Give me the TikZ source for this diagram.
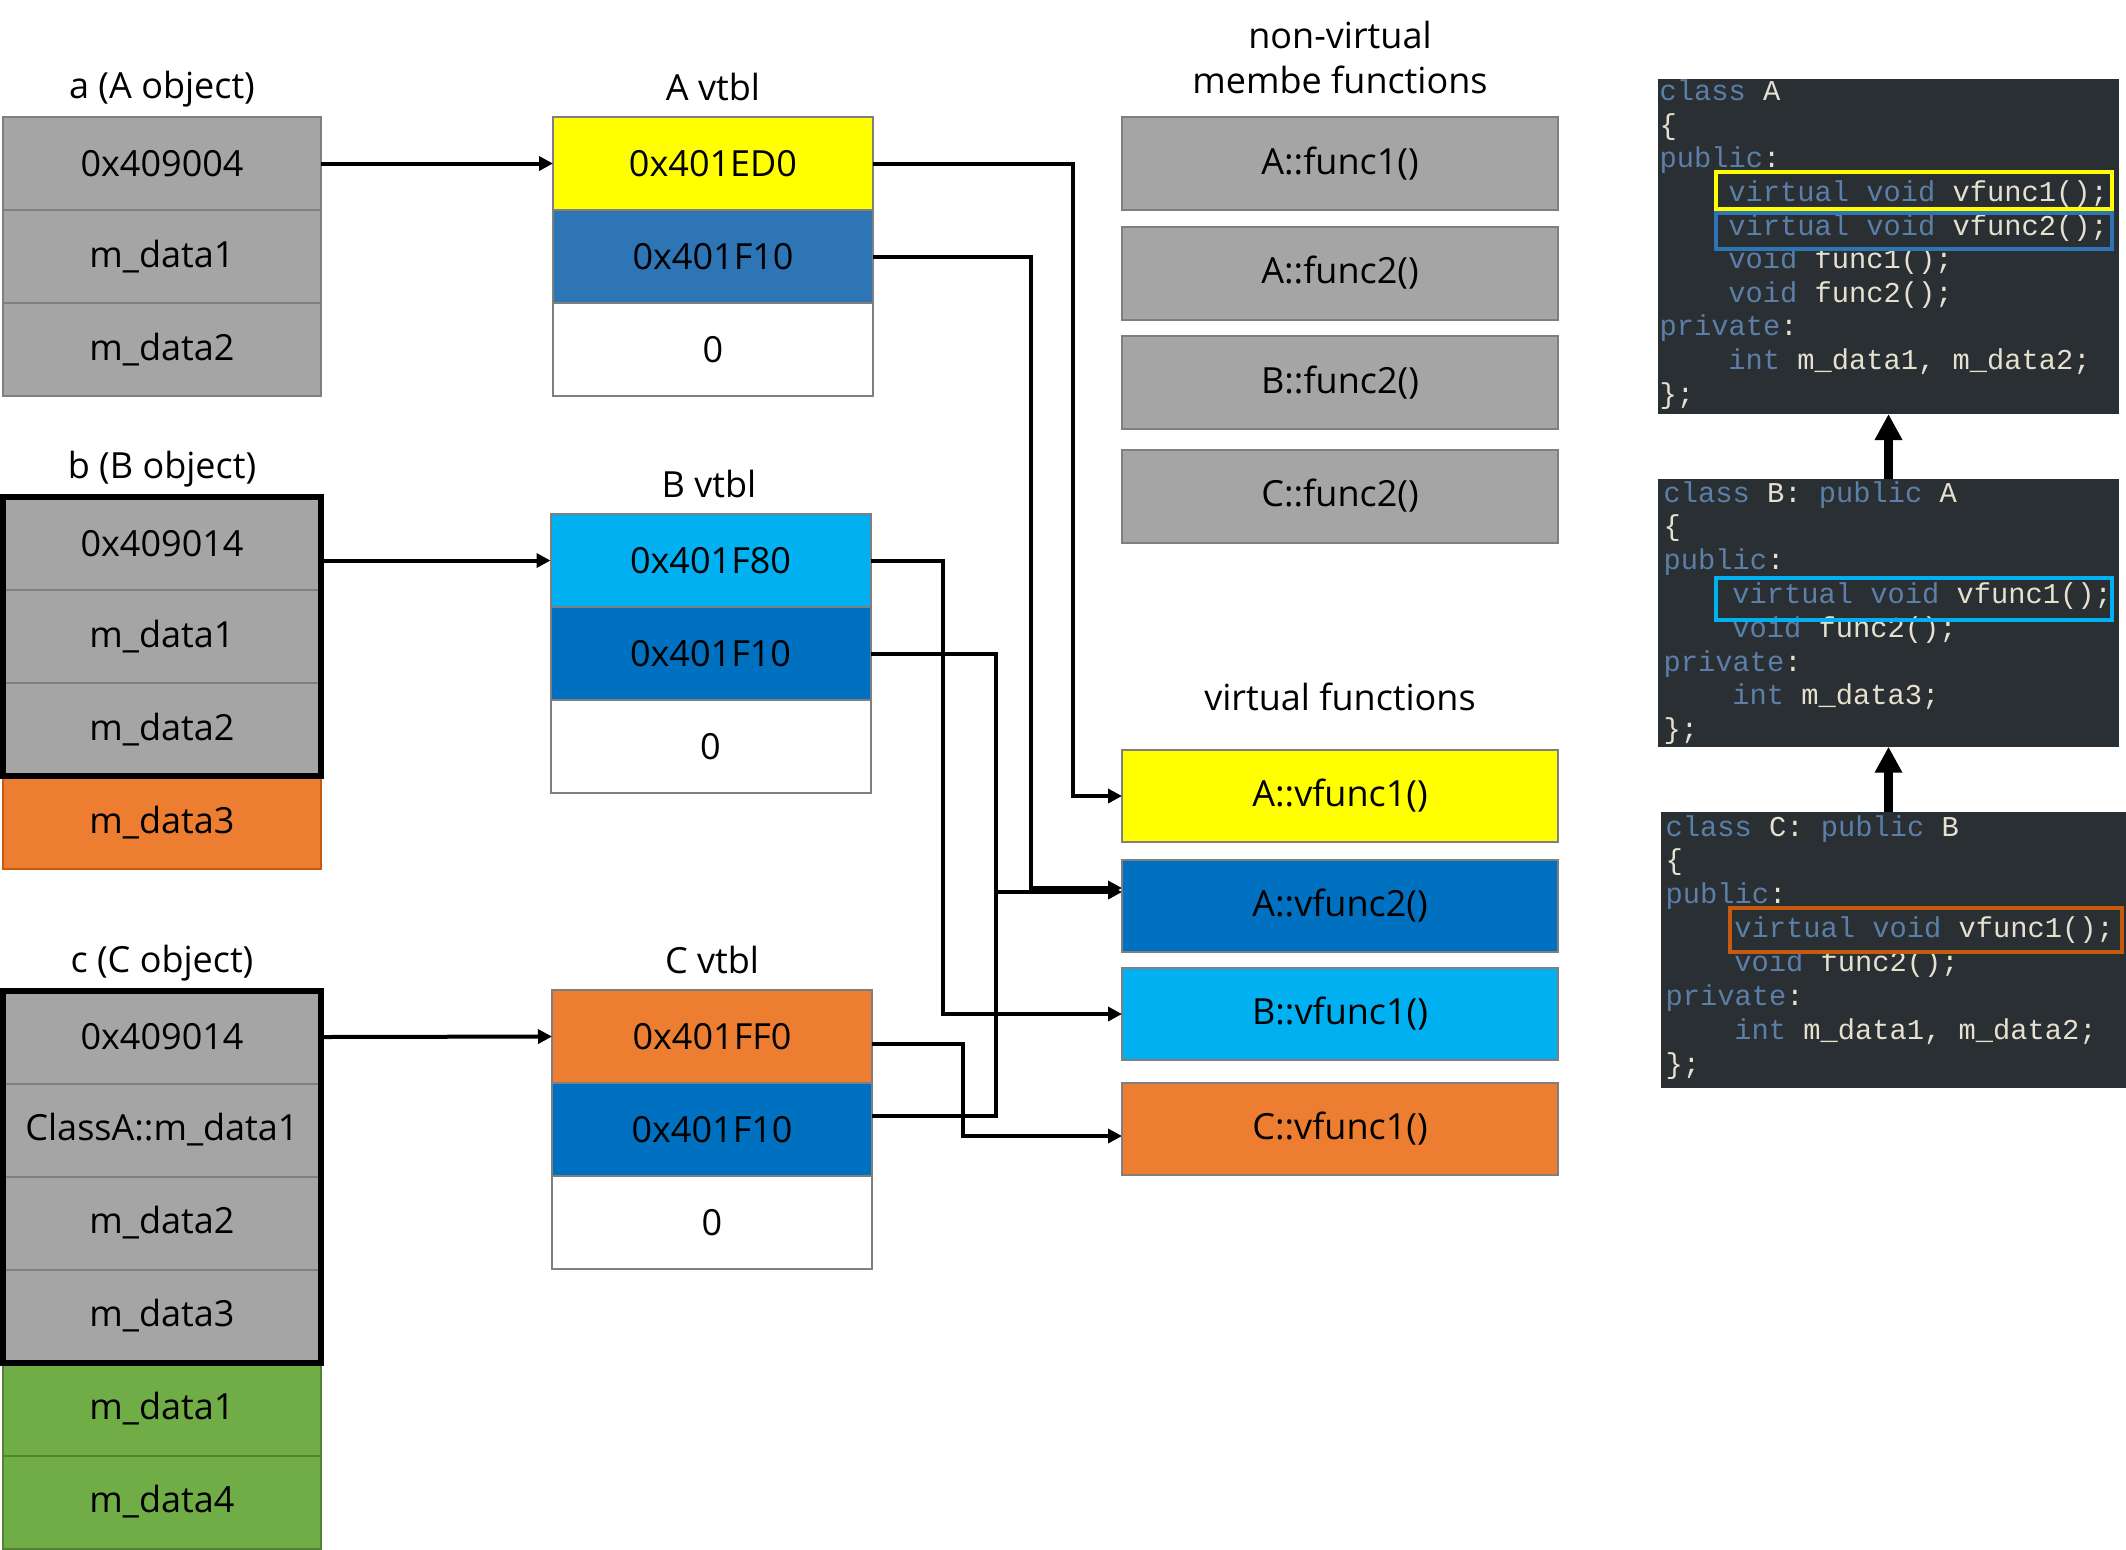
\documentclass[tikz,border=0pt]{standalone}
\usepackage{fontspec}
\setmainfont{Open Sans}
\newfontfamily\codefont{Liberation Mono}
\usetikzlibrary{arrows.meta,calc}
\definecolor{cellgray}{HTML}{A5A5A5}
\definecolor{cellborder}{HTML}{7F7F7F}
\definecolor{cyellow}{HTML}{FFFF00}
\definecolor{csteel}{HTML}{2E75B6}
\definecolor{cblue}{HTML}{0070C0}
\definecolor{clight}{HTML}{00B0F0}
\definecolor{corange}{HTML}{ED7D31}
\definecolor{corangeb}{HTML}{C55A11}
\definecolor{cgreen}{HTML}{70AD47}
\definecolor{cgreenb}{HTML}{548235}
\definecolor{codebg}{HTML}{2A2F33}
\definecolor{codekw}{HTML}{5B7FA6}
\definecolor{codetx}{HTML}{E6E1CF}
\newcommand{\kw}[1]{\textcolor{codekw}{#1}}
\newcommand{\boxfs}{\fontsize{14.4pt}{17pt}\selectfont}
\newcommand{\codefs}{\codefont\fontsize{11.5pt}{13pt}\selectfont}
\begin{document}
\begin{tikzpicture}[x=0.4pt,y=-0.4pt,
  cell/.style={draw=cellborder, line width=0.8pt, inner sep=0pt, outer sep=0pt,
    minimum width=127.2pt, minimum height=37.2pt, font=\boxfs, text=black},
  graycell/.style={cell, fill=cellgray},
  vt/.style={cell, minimum width=128pt},
  fn/.style={cell, fill=cellgray, minimum width=174.4pt},
  vfn/.style={cell, minimum width=174.4pt, minimum height=36.8pt},
  hdr/.style={anchor=base, inner sep=0pt, font=\boxfs},
  conn/.style={line width=1.6pt},
  arr/.style={conn, -{Triangle[length=5.6pt,width=5.6pt]}},
  codeline/.style={anchor=base west, inner sep=0pt, font=\codefs, text=codetx},
  hl/.style={line width=1.6pt},
  panel/.style={fill=codebg, draw=none, inner sep=0pt, outer sep=0pt},
  inh/.style={line width=3.3pt, -{Triangle[length=10.4pt,width=10.4pt]}}
]
\useasboundingbox (0,0) rectangle (2126,1549);

% ---------- headers ----------
\node[hdr] (ha) at (162,98) {a (A object)};
\node[hdr] (hb) at (162,478) {b (B object)};
\node[hdr] (hc) at (162,972) {c (C object)};
\node[hdr] (hav) at (713,100) {A vtbl};
\node[hdr] (hbv) at (709,497) {B vtbl};
\node[hdr] (hcv) at (712,973) {C vtbl};
\node[hdr] (hnv1) at (1340,48) {non-virtual};
\node[hdr] (hnv2) at (1340,93) {membe functions};
\node[hdr] (hvf) at (1340,710) {virtual functions};

% ---------- objects ----------
\node[graycell] (a1) at (162,163.5) {0x409004};
\node[graycell] (a2) at (162,256.5) {m\_data1};
\node[graycell] (a3) at (162,349.5) {m\_data2};

\node[graycell] (b1) at (162,543.5) {0x409014};
\node[graycell] (b2) at (162,636.5) {m\_data1};
\node[graycell] (b3) at (162,729.5) {m\_data2};
\node[cell, fill=corange, draw=corangeb] (b4) at (162,822.5) {m\_data3};
\draw[line width=2.4pt] (b1.north west) rectangle (b3.south east);

\node[graycell] (c1) at (162,1037) {0x409014};
\node[graycell] (c2) at (162,1130) {ClassA::m\_data1};
\node[graycell] (c3) at (162,1223) {m\_data2};
\node[graycell] (c4) at (162,1316) {m\_data3};
\node[cell, fill=cgreen, draw=cgreenb] (c5) at (162,1409) {m\_data1};
\node[cell, fill=cgreen, draw=cgreenb] (c6) at (162,1502) {m\_data4};
\draw[line width=2.4pt] (c1.north west) rectangle (c4.south east);

% ---------- vtables ----------
\node[vt, fill=cyellow] (av1) at (713,163.5) {0x401ED0};
\node[vt, fill=csteel] (av2) at (713,256.5) {0x401F10};
\node[vt, fill=white] (av3) at (713,349.5) {0};

\node[vt, fill=clight] (bv1) at (710.5,560.5) {0x401F80};
\node[vt, fill=cblue] (bv2) at (710.5,653.5) {0x401F10};
\node[vt, fill=white] (bv3) at (710.5,746.5) {0};

\node[vt, fill=corange] (cv1) at (712,1036.5) {0x401FF0};
\node[vt, fill=cblue] (cv2) at (712,1129.5) {0x401F10};
\node[vt, fill=white] (cv3) at (712,1222.5) {0};

% ---------- functions ----------
\node[fn] (nf1) at (1340,163.5) {A::func1()};
\node[fn] (nf2) at (1340,273) {A::func2()};
\node[fn] (nf3) at (1340,382.5) {B::func2()};
\node[fn] (nf4) at (1340,496) {C::func2()};

\node[vfn, fill=cyellow] (vf1) at (1340,796) {A::vfunc1()};
\node[vfn, fill=cblue] (vf2) at (1340,906) {A::vfunc2()};
\node[vfn, fill=clight] (vf3) at (1340,1014) {B::vfunc1()};
\node[vfn, fill=corange] (vf4) at (1340,1128.5) {C::vfunc1()};

% ---------- connectors ----------
\draw[arr] (a1.east) -- (av1.west);
\draw[arr] (b1.east |- bv1.west) -- (bv1.west);
\draw[arr] (c1.east) -- (cv1.west);

\coordinate (xA1) at (1073,0);
\coordinate (xA2) at (1031,0);
\coordinate (xB1) at (943,0);
\coordinate (xB2) at (996,0);
\coordinate (xC1) at (963,0);
\coordinate (tA2) at ([yshift=7.2pt]vf2.west);
\coordinate (tB2) at ([yshift=5.6pt]vf2.west);
\coordinate (tC1) at ([yshift=-3pt]vf4.west);
\coordinate (sC1) at ([yshift=-3pt]cv1.east);
\coordinate (sC2) at ([yshift=5.4pt]cv2.east);

\draw[arr] (av1.east) -| (xA1 |- vf1.west) -- (vf1.west);
\draw[arr] (av2.east) -| (xA2 |- tA2) -- (tA2);
\draw[arr] (bv1.east) -| (xB1 |- vf3.west) -- (vf3.west);
\draw[arr] (bv2.east) -| (xB2 |- tB2) -- (tB2);
\draw[arr] (sC1) -| (xC1 |- tC1) -- (tC1);
\draw[conn] (sC2) -| (xB2 |- tB2);

% ---------- code panels ----------
\node[panel, minimum width=184.4pt, minimum height=134pt] (pA) at (1888.5,246.5) {};
\node[panel, minimum width=184.4pt, minimum height=107.1pt] (pB) at (1888.5,612.85) {};
\node[panel, minimum width=186pt, minimum height=110.4pt] (pC) at (1893.5,950) {};

% class A
\node[codeline] (ca1) at (1659,100.7) {\kw{class} A};
\node[codeline] (ca2) at (1659,134.3) {\{};
\node[codeline] (ca3) at (1659,167.9) {\kw{public}:};
\node[codeline] (ca4) at (1727.8,201.5) {\kw{virtual void} vfunc1();};
\node[codeline] (ca5) at (1727.8,235.1) {\kw{virtual void} vfunc2();};
\node[codeline] (ca6) at (1727.8,268.7) {\kw{void} func1();};
\node[codeline] (ca7) at (1727.8,302.3) {\kw{void} func2();};
\node[codeline] (ca8) at (1659,335.9) {\kw{private}:};
\node[codeline] (ca9) at (1727.8,369.5) {\kw{int} m\_data1, m\_data2;};
\node[codeline] (ca10) at (1659,403.1) {\};};
\draw[hl, draw=cyellow] (1716,172) rectangle (2111.7,209);
\draw[hl, draw=csteel] (1716,212.7) rectangle (2111.7,249);

% class B
\node[codeline] (cb1) at (1663,502) {\kw{class} B: \kw{public} A};
\node[codeline] (cb2) at (1663,535.8) {\{};
\node[codeline] (cb3) at (1663,569.6) {\kw{public}:};
\node[codeline] (cb4) at (1731.8,603.4) {\kw{virtual void} vfunc1();};
\node[codeline] (cb5) at (1731.8,637.2) {\kw{void} func2();};
\node[codeline] (cb6) at (1663,671) {\kw{private}:};
\node[codeline] (cb7) at (1731.8,704.8) {\kw{int} m\_data3;};
\node[codeline] (cb8) at (1663,738.6) {\};};
\draw[hl, draw=clight] (1716,578.3) rectangle (2111.7,620);

% class C
\node[codeline] (cc1) at (1665,836) {\kw{class} C: \kw{public} B};
\node[codeline] (cc2) at (1665,869.9) {\{};
\node[codeline] (cc3) at (1665,903.8) {\kw{public}:};
\node[codeline] (cc4) at (1733.8,937.7) {\kw{virtual void} vfunc1();};
\node[codeline] (cc5) at (1733.8,971.6) {\kw{void} func2();};
\node[codeline] (cc6) at (1665,1005.5) {\kw{private}:};
\node[codeline] (cc7) at (1733.8,1039.4) {\kw{int} m\_data1, m\_data2;};
\node[codeline] (cc8) at (1665,1073.3) {\};};
\draw[hl, draw=corangeb] (1730,907.7) rectangle (2121.7,952.3);

% inheritance arrows
\draw[inh] (pB.north) -- (pA.south);
\draw[inh] (pC.north -| pB.south) -- (pB.south);
\end{tikzpicture}
\end{document}
